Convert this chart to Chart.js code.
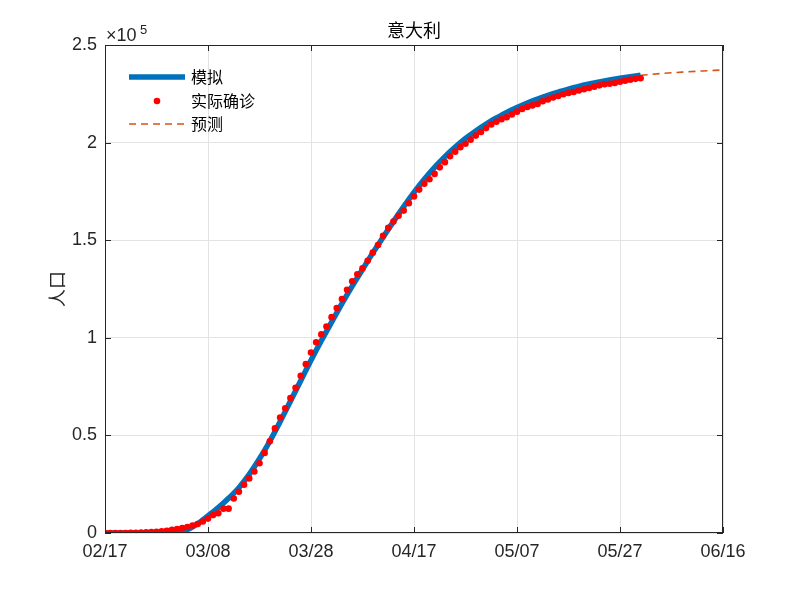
<!DOCTYPE html>
<html>
<head>
<meta charset="utf-8">
<script src="https://cdn.jsdelivr.net/npm/chart.js@4.4.1/dist/chart.umd.min.js"></script>
<style>
  html, body { margin: 0; background: #fff; }
  #wrap { width: 800px; height: 599px; }
</style>
</head>
<body>
<div id="wrap"><canvas id="italyChart"></canvas></div>
<script>
// day 0 = 2020-02-17
var startDate = new Date(2020, 1, 17);

// actual confirmed cases, one per day from 02/17 to 05/31
var actualCases = [
  3, 3, 3, 3, 20, 79, 150, 229, 322, 453, 655, 888, 1128,
  1694, 2036, 2502, 3089, 3858, 4636, 5883, 7375, 9172, 10149, 12462, 12462,
  17660, 21157, 24747, 27980, 31506, 35713, 41035, 47021, 53578, 59138, 63927,
  69176, 74386, 80589, 86498, 92472, 97689, 101739, 105792,
  110574, 115242, 119827, 124632, 128948, 132547, 135586, 139422, 143626, 147577,
  152271, 156363, 159516, 162488, 165155, 168941, 172434, 175925, 178972, 181228,
  183957, 187327, 189973, 192994, 195351, 197675, 199414, 201505, 203591, 205463,
  207428, 209328, 210717, 211938, 213013, 214457, 215858, 217185, 218268, 219070,
  219814, 221216, 222104, 223096, 223885, 224760, 225435, 225886, 226699, 227364,
  228006, 228658, 229327, 229858, 230158, 230555, 231139, 231732, 232248, 232664,
  232997
];

// fitted model
var modelDays = [0, 4, 8, 10, 12, 14, 16, 18, 20, 22, 24, 26, 28, 30, 32, 34, 36, 38, 40,
  42, 44, 46, 48, 50, 52, 54, 56, 58, 60, 62, 64, 66, 68, 70, 72, 74, 76, 78, 80,
  82, 84, 86, 88, 90, 92, 94, 96, 98, 100, 102, 104];
var modelValues = [0, 0, 0, 100, 250, 600, 1800, 4800, 8800, 13000, 17800, 23200,
  30000, 38000, 47000, 57000, 67500, 78000, 88500, 98500, 108000, 117500, 126500,
  135000, 143500, 151500, 159500, 167200, 174500, 181200, 187300, 192800, 197700,
  202100, 206000, 209500, 212600, 215500, 218000, 220300, 222300, 224200, 225900,
  227400, 228800, 230000, 231100, 232100, 233000, 233800, 234500];

// forecast
var forecastDays = [104, 108, 112, 116, 120];
var forecastValues = [234500, 235400, 236100, 236700, 237200];

var xTickStep = 20;
var yTickStep = 50000;

var cnFont = '"Noto Sans CJK SC", sans-serif';
var numFont = '"Liberation Sans", Arial, sans-serif';
var axisColor = '#262626';

function dayLabel(d) {
  var dt = new Date(startDate.getFullYear(), startDate.getMonth(), startDate.getDate() + d);
  var mm = String(dt.getMonth() + 1).padStart(2, '0');
  var dd = String(dt.getDate()).padStart(2, '0');
  return mm + '/' + dd;
}

function toPoints(xs, ys) {
  return xs.map(function (x, i) { return { x: x, y: ys[i] }; });
}

// frame, inward ticks, title, exponent and legend (matlab style)
var matlabDecor = {
  id: 'matlabDecor',
  afterDraw: function (chart) {
    var ctx = chart.ctx;
    var a = chart.chartArea;
    var xs = chart.scales.x, ys = chart.scales.y;
    ctx.save();
    ctx.strokeStyle = axisColor;
    ctx.lineWidth = 1;
    ctx.strokeRect(a.left + 0.5, a.top + 0.5, a.right - a.left - 1, a.bottom - a.top - 1);
    ctx.beginPath();
    xs.ticks.forEach(function (t) {
      var px = Math.round(xs.getPixelForValue(t.value)) + 0.5;
      ctx.moveTo(px, a.bottom); ctx.lineTo(px, a.bottom - 6);
      ctx.moveTo(px, a.top); ctx.lineTo(px, a.top + 6);
    });
    ys.ticks.forEach(function (t) {
      var py = Math.round(ys.getPixelForValue(t.value)) + 0.5;
      ctx.moveTo(a.left, py); ctx.lineTo(a.left + 6, py);
      ctx.moveTo(a.right, py); ctx.lineTo(a.right - 6, py);
    });
    ctx.stroke();

    // title
    ctx.fillStyle = '#000';
    ctx.font = '18px ' + cnFont;
    ctx.textAlign = 'center';
    ctx.textBaseline = 'middle';
    ctx.fillText('意大利', (a.left + a.right) / 2, 30);

    // exponent
    ctx.fillStyle = axisColor;
    ctx.textAlign = 'left';
    ctx.textBaseline = 'alphabetic';
    ctx.font = '18px ' + numFont;
    ctx.fillText('\u00d710', a.left + 1, 41);
    ctx.font = '13px ' + numFont;
    ctx.fillText('5', a.left + 35, 34);

    // legend
    var ds = chart.data.datasets;
    var rows = [77, 101, 124];
    ctx.font = '16px ' + cnFont;
    ctx.textBaseline = 'middle';
    ds.forEach(function (d, i) {
      var y = rows[i];
      ctx.beginPath();
      if (d.showLine === false) {
        ctx.fillStyle = d.pointBackgroundColor;
        ctx.arc(157, y, d.pointRadius, 0, Math.PI * 2);
        ctx.fill();
      } else {
        ctx.strokeStyle = d.borderColor;
        ctx.lineWidth = d.borderWidth;
        ctx.setLineDash(d.borderDash || []);
        ctx.moveTo(129, y); ctx.lineTo(185, y);
        ctx.stroke();
        ctx.setLineDash([]);
      }
      ctx.fillStyle = '#000';
      ctx.fillText(d.label, 191, y);
    });
    ctx.restore();
  }
};

var ctx = document.getElementById('italyChart');
var chart = new Chart(ctx, {
  type: 'line',
  data: {
    datasets: [
      {
        label: '模拟',
        data: toPoints(modelDays, modelValues),
        borderColor: '#0072BD',
        borderWidth: 5.5,
        pointRadius: 0,
        cubicInterpolationMode: 'monotone',
        order: 2
      },
      {
        label: '实际确诊',
        data: actualCases.map(function (v, i) { return { x: i, y: v }; }),
        showLine: false,
        pointRadius: 3.3,
        pointBackgroundColor: '#FF0000',
        pointBorderWidth: 0,
        borderColor: '#FF0000',
        order: 1
      },
      {
        label: '预测',
        data: toPoints(forecastDays, forecastValues),
        borderColor: '#D95319',
        borderWidth: 1.6,
        borderDash: [7, 5],
        pointRadius: 0,
        cubicInterpolationMode: 'monotone',
        order: 3
      }
    ]
  },
  options: {
    responsive: true,
    maintainAspectRatio: false,
    animation: false,
    layout: { padding: { top: 45, right: 77, left: 0, bottom: 0 } },
    plugins: {
      legend: { display: false },
      tooltip: { enabled: false },
      title: { display: false }
    },
    scales: {
      x: {
        type: 'linear',
        min: 0,
        max: 120,
        grid: { color: '#e3e3e3', drawTicks: false },
        border: { display: false },
        ticks: {
          stepSize: xTickStep,
          color: axisColor,
          padding: 8,
          maxRotation: 0,
          font: { family: numFont, size: 18 },
          callback: function (v) { return dayLabel(v); }
        },
        afterFit: function (s) { s.height = 66; }
      },
      y: {
        min: 0,
        max: 250000,
        grid: { color: '#e3e3e3', drawTicks: false },
        border: { display: false },
        ticks: {
          stepSize: yTickStep,
          color: axisColor,
          padding: 8,
          font: { family: numFont, size: 18 },
          callback: function (v) { return String(v / 1e5); }
        },
        title: {
          display: true,
          text: '人口',
          color: axisColor,
          font: { family: cnFont, size: 18 },
          padding: { top: 46, bottom: 0 }
        },
        afterFit: function (s) { s.width = 105; }
      }
    }
  },
  plugins: [matlabDecor]
});
</script>
</body>
</html>
